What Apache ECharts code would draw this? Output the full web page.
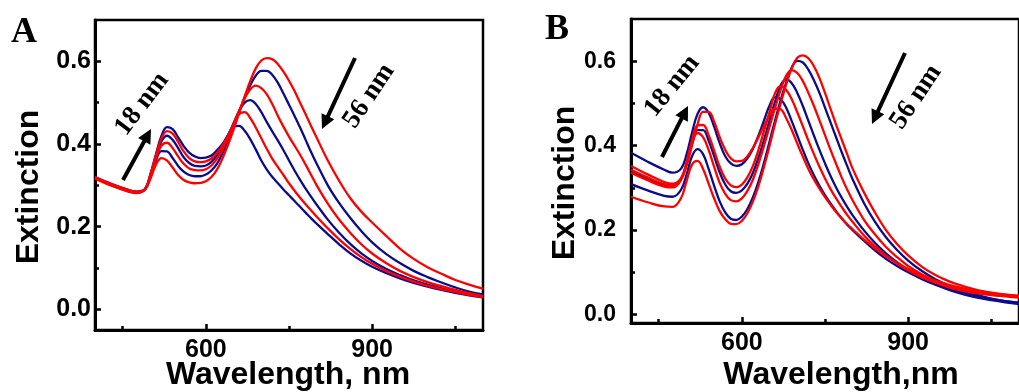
<!DOCTYPE html>
<html>
<head>
<meta charset="utf-8">
<script src="https://cdn.jsdelivr.net/npm/echarts@6/dist/echarts.min.js"></script>
<style>
  html, body { margin: 0; padding: 0; background: #fff; }
  #chart { width: 1019px; height: 392px; }
</style>
</head>
<body>
<div id="chart"></div>
<script>
// wavelength grid (nm) shared by every curve
const wavelengths = [400, 430, 460, 475,
  490, 500, 510, 520, 530, 540, 550, 560, 570, 580, 590, 600, 610, 620, 630, 640,
  650, 660, 670, 680, 690, 700, 710, 720, 730, 740, 750, 760, 770, 780, 790, 800,
  820, 840, 860, 880, 900, 925, 950, 975, 1000, 1025, 1050, 1075, 1100];

// tick values
const xMajorTicks = [600, 900];
const xMinorTicks = [450, 750, 1050];
const yMajorTicks = [0, 0.2, 0.4, 0.6];
const yMinorTicks = [0.1, 0.3, 0.5];

// panel A: extinction spectra (red / blue alternate)
const specA1 = [.316, .299, .285, .281,
  .29, .316, .35, .366, .36, .343, .325, .313, .307, .305, .306, .31, .32, .338, .365, .398,
  .435, .475, .515, .552, .583, .602, .608, .605, .593, .575, .553, .528, .50, .472, .443, .415,
  .36, .312, .27, .237, .21, .178, .147, .122, .102, .086, .071, .06, .05];
const specA2 = [.317, .3, .286, .282,
  .29, .32, .36, .383, .382, .366, .347, .333, .325, .322, .322, .326, .336, .352, .377, .408,
  .443, .478, .512, .542, .565, .577, .577, .567, .548, .522, .495, .468, .44, .41, .38, .352,
  .30, .258, .222, .19, .162, .134, .112, .093, .078, .065, .053, .043, .036];
const specA3 = [.318, .301, .287, .283,
  .29, .323, .366, .396, .403, .39, .37, .352, .341, .337, .336, .339, .348, .364, .387, .415,
  .448, .48, .51, .532, .541, .535, .52, .496, .468, .442, .418, .396, .374, .35, .325, .30,
  .256, .218, .186, .158, .135, .112, .093, .078, .066, .056, .047, .039, .032];
const specA4 = [.319, .302, .288, .284,
  .29, .325, .371, .407, .42, .41, .39, .368, .354, .347, .346, .348, .357, .372, .393, .42,
  .45, .48, .50, .506, .497, .477, .453, .43, .408, .385, .36, .336, .313, .292, .272, .253,
  .217, .186, .159, .136, .117, .098, .083, .07, .06, .051, .044, .037, .031];
const specA5 = [.32, .303, .289, .285,
  .29, .326, .373, .414, .431, .425, .405, .382, .366, .358, .356, .358, .365, .378, .397, .42,
  .447, .472, .477, .463, .44, .414, .388, .364, .344, .325, .305, .287, .27, .254, .239, .224,
  .196, .17, .147, .127, .11, .093, .079, .067, .057, .049, .042, .035, .03];
const specA6 = [.32, .303, .289, .285,
  .291, .327, .375, .42, .441, .436, .416, .395, .379, .37, .366, .367, .372, .385, .40, .422,
  .442, .444, .432, .412, .387, .36, .338, .32, .305, .29, .276, .262, .248, .234, .22, .207,
  .182, .158, .136, .118, .103, .088, .075, .064, .055, .047, .04, .034, .029];

// panel B
const specB1 = [.279, .266, .256, .255,
  .275, .315, .355, .364, .345, .31, .275, .245, .226, .215, .214, .222, .24, .268, .305, .35,
  .40, .452, .50, .545, .583, .608, .614, .607, .588, .56, .525, .487, .45, .415, .38, .345,
  .29, .242, .2, .167, .14, .113, .093, .078, .067, .058, .052, .047, .044];
const specB2 = [.309, .294, .281, .279,
  .295, .33, .375, .392, .38, .345, .305, .268, .242, .227, .224, .232, .25, .278, .315, .36,
  .41, .46, .508, .55, .585, .601, .597, .58, .555, .525, .49, .455, .42, .385, .352, .32,
  .265, .22, .183, .153, .128, .103, .083, .068, .056, .046, .038, .032, .028];
const specB3 = [.336, .318, .303, .301,
  .318, .355, .405, .43, .42, .39, .35, .312, .286, .271, .268, .275, .293, .32, .357, .40,
  .445, .49, .532, .566, .579, .572, .553, .525, .494, .46, .425, .39, .357, .325, .296, .27,
  .225, .19, .16, .136, .115, .095, .08, .068, .06, .053, .048, .045, .042];
const specB4 = [.34, .322, .307, .305,
  .32, .356, .405, .437, .437, .412, .375, .337, .308, .292, .288, .294, .31, .336, .372, .414,
  .46, .505, .543, .557, .548, .525, .494, .459, .424, .39, .358, .328, .301, .277, .255, .235,
  .2, .17, .145, .124, .106, .088, .073, .061, .052, .044, .037, .032, .028];
const specB5 = [.343, .325, .309, .307,
  .322, .36, .412, .448, .449, .425, .388, .35, .322, .306, .302, .308, .325, .352, .39, .435,
  .48, .525, .541, .532, .51, .479, .446, .412, .38, .35, .322, .297, .275, .255, .236, .219,
  .188, .162, .14, .121, .105, .088, .075, .064, .056, .05, .046, .043, .04];
const specB6 = [.383, .362, .343, .336,
  .345, .378, .43, .475, .491, .478, .445, .406, .375, .358, .352, .356, .37, .393, .424, .46,
  .495, .515, .51, .49, .458, .424, .39, .358, .33, .305, .283, .263, .245, .228, .213, .2,
  .175, .152, .132, .115, .1, .084, .07, .058, .048, .04, .034, .029, .025];
const specB7 = [.352, .332, .314, .31,
  .322, .352, .40, .45, .48, .48, .457, .42, .39, .37, .363, .364, .375, .395, .42, .447,
  .472, .488, .486, .465, .437, .405, .374, .345, .32, .298, .278, .26, .243, .228, .214, .202,
  .178, .157, .138, .122, .108, .093, .08, .07, .062, .056, .051, .047, .044];

const RED = '#ff0000';
const BLUE = '#0c0c8a';

const panelA = [[specA2, BLUE], [specA4, BLUE], [specA6, BLUE], [specA1, RED], [specA3, RED], [specA5, RED]];
const panelB = [[specB2, BLUE], [specB4, BLUE], [specB6, BLUE], [specB1, RED], [specB3, RED], [specB5, RED], [specB7, RED]];

const chart = echarts.init(document.getElementById('chart'));

const labelFont = {color: '#000', fontFamily: 'Liberation Sans, Arial', fontWeight: 'bold'};

function xAxes(grid) {
  return [{
    gridIndex: grid, type: 'value', min: 400, max: 1100,
    axisLine: {show: true, onZero: false, lineStyle: {color: '#000', width: 3}},
    axisTick: {show: true, inside: true, length: 6, customValues: xMajorTicks, lineStyle: {color: '#000', width: 2.5}},
    axisLabel: Object.assign({customValues: xMajorTicks, fontSize: 25, margin: 8}, labelFont),
    splitLine: {show: false}
  }, {
    gridIndex: grid, type: 'value', min: 400, max: 1100, position: 'bottom',
    axisLine: {show: false, onZero: false},
    axisTick: {show: true, inside: true, length: 4, customValues: xMinorTicks, lineStyle: {color: '#000', width: 2.5}},
    axisLabel: {show: false},
    splitLine: {show: false}
  }];
}

function yAxes(grid, min, margin, size) {
  return [{
    gridIndex: grid, type: 'value', min: min, max: 0.7,
    axisLine: {show: true, onZero: false, lineStyle: {color: '#000', width: 3}},
    axisTick: {show: true, inside: true, length: 6, customValues: yMajorTicks, lineStyle: {color: '#000', width: 2.5}},
    axisLabel: Object.assign({customValues: yMajorTicks, fontSize: size, margin: margin,
      formatter: v => v.toFixed(1)}, labelFont),
    splitLine: {show: false}
  }, {
    gridIndex: grid, type: 'value', min: min, max: 0.7, position: 'left',
    axisLine: {show: false, onZero: false},
    axisTick: {show: true, inside: true, length: 4, customValues: yMinorTicks, lineStyle: {color: '#000', width: 2.5}},
    axisLabel: {show: false},
    splitLine: {show: false}
  }];
}

function makeSeries(list, axisIndex) {
  return list.map(([vals, color]) => ({
    type: 'line',
    xAxisIndex: axisIndex,
    yAxisIndex: axisIndex,
    data: wavelengths.map((w, i) => [w, vals[i]]),
    showSymbol: false,
    smooth: 0.4,
    lineStyle: {color: color, width: 2.3},
    itemStyle: {color: color},
    silent: true
  }));
}

// arrow annotation made of a shaft and a head
function arrow(x1, y1, x2, y2) {
  const dx = x2 - x1, dy = y2 - y1, len = Math.hypot(dx, dy);
  const ux = dx / len, uy = dy / len, hl = 14, hw = 7;
  const bx = x2 - ux * hl, by = y2 - uy * hl;
  return [{
    type: 'line', shape: {x1: x1, y1: y1, x2: bx + ux * 2, y2: by + uy * 2},
    style: {stroke: '#000', lineWidth: 4}
  }, {
    type: 'polygon', shape: {points: [[x2, y2], [bx - uy * hw, by + ux * hw], [bx + uy * hw, by - ux * hw]]},
    style: {fill: '#000'}
  }];
}

function note(text, x, y, deg) {
  return {
    type: 'text', x: x, y: y, rotation: deg * Math.PI / 180,
    style: {text: text, fontSize: 27, fontWeight: 'bold', fontFamily: 'Liberation Serif, Times New Roman',
      fill: '#000', align: 'center', verticalAlign: 'middle'}
  };
}

function title(text, x, y, rot) {
  return {
    type: 'text', x: x, y: y, rotation: rot,
    style: {text: text, fontSize: 32, fontWeight: 'bold', fontFamily: 'Liberation Sans, Arial',
      fill: '#000', align: 'center', verticalAlign: 'middle'}
  };
}

const option = {
  animation: false,
  backgroundColor: '#fff',
  grid: [
    {left: 95, top: 20, width: 388, height: 310, show: true, borderColor: '#000', borderWidth: 2.5},
    {left: 631, top: 19, width: 399, height: 304, show: true, borderColor: '#000', borderWidth: 2.5}
  ],
  xAxis: xAxes(0).concat(xAxes(1)),
  yAxis: yAxes(0, -0.05, 4, 25).concat(yAxes(1, -0.02, 15, 23)),
  series: makeSeries(panelA, 0).concat(makeSeries(panelB, 2)),
  graphic: [
    {type: 'text', x: 24, y: 33, style: {text: 'A', fontSize: 36, fontWeight: 'bold',
      fontFamily: 'Liberation Serif, Times New Roman', fill: '#000', align: 'center', verticalAlign: 'middle'}},
    {type: 'text', x: 557, y: 30, style: {text: 'B', fontSize: 36, fontWeight: 'bold',
      fontFamily: 'Liberation Serif, Times New Roman', fill: '#000', align: 'center', verticalAlign: 'middle'}},
    title('Extinction', 29, 187, Math.PI / 2),
    title('Extinction', 565, 183, Math.PI / 2),
    title('Wavelength, nm', 288, 375, 0),
    title('Wavelength,nm', 841, 375, 0),
    note('18 nm', 142, 104, 53),
    note('56 nm', 369, 96, 56),
    note('18 nm', 672, 86, 51),
    note('56 nm', 916, 97, 56)
  ].concat(arrow(123, 180, 151, 129), arrow(355, 58, 322, 129),
           arrow(662, 157, 688, 106), arrow(905, 53, 872, 124))
};

chart.setOption(option);
</script>
</body>
</html>
